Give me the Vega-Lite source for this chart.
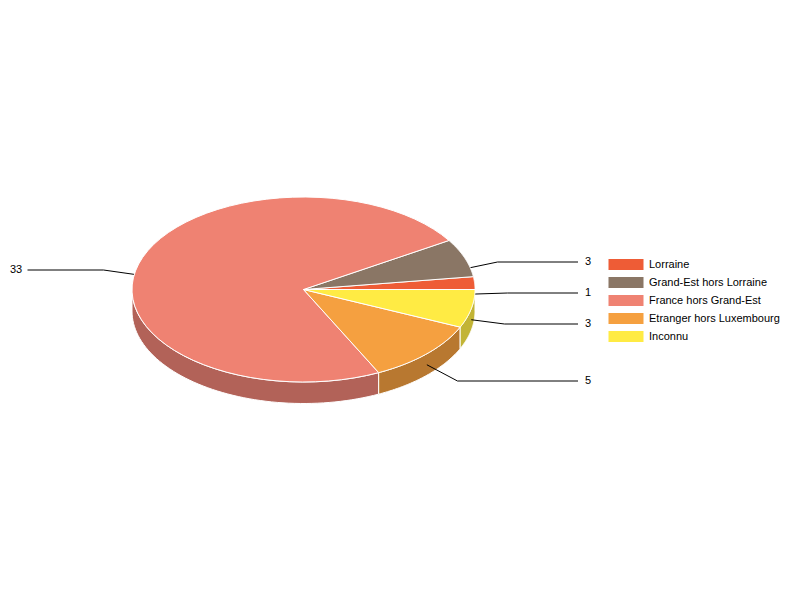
{
  "$schema": "https://vega.github.io/schema/vega-lite/v6.json",
  "width": 800,
  "height": 600,
  "padding": 0,
  "autosize": {"type": "none"},
  "background": "white",
  "data": {
    "values": [
      {"slice": "Lorraine", "rank": 1, "value": 1, "elbowX": 204, "endX": 274.5, "labelX": 284.5, "labelY": -3.5},
      {"slice": "Grand-Est hors Lorraine", "rank": 2, "value": 3, "elbowX": 194, "endX": 274.5, "labelX": 284.5, "labelY": 27.5},
      {"slice": "France hors Grand-Est", "rank": 3, "value": 33, "elbowX": -200, "endX": -276, "labelX": -287.5, "labelY": 19.5},
      {"slice": "Etranger hors Luxembourg", "rank": 4, "value": 5, "elbowX": 154, "endX": 274.5, "labelX": 284.5, "labelY": -91.5},
      {"slice": "Inconnu", "rank": 5, "value": 3, "elbowX": 201, "endX": 274.5, "labelX": 284.5, "labelY": -34.5}
    ]
  },
  "transform": [
    {"joinaggregate": [{"op": "sum", "field": "value", "as": "total"}]},
    {"window": [{"op": "sum", "field": "value", "as": "cum"}], "sort": [{"field": "rank"}]},
    {"calculate": "2 * PI * (datum.cum - datum.value) / datum.total", "as": "a0"},
    {"calculate": "2 * PI * datum.cum / datum.total", "as": "a1"}
  ],
  "encoding": {
    "x": {"field": "px", "type": "quantitative", "axis": null, "scale": {"domain": [-303.5, 496.5], "nice": false, "zero": false}},
    "y": {"field": "py", "type": "quantitative", "axis": null, "scale": {"domain": [-310.5, 289.5], "nice": false, "zero": false}}
  },
  "layer": [
    {
      "transform": [
        {"calculate": "max(datum.a0, PI)", "as": "w0"},
        {"calculate": "max(datum.a1, PI)", "as": "w1"},
        {"filter": "datum.w1 > datum.w0"},
        {"calculate": "sequence(0, 122)", "as": "i"},
        {"flatten": ["i"]},
        {"calculate": "datum.w0 + ((datum.i <= 60 ? datum.i : 121 - datum.i) / 60) * (datum.w1 - datum.w0)", "as": "a"},
        {"calculate": "171.5 * cos(datum.a)", "as": "px"},
        {"calculate": "92.5 * sin(datum.a) - (datum.i <= 60 ? 0 : 21.5)", "as": "py"}
      ],
      "mark": {"type": "line", "filled": true, "interpolate": "linear-closed", "stroke": "white", "strokeWidth": 1},
      "encoding": {
        "order": {"field": "i", "type": "quantitative"},
        "color": {
          "field": "slice",
          "type": "nominal",
          "legend": null,
          "scale": {
            "domain": ["France hors Grand-Est", "Etranger hors Luxembourg", "Inconnu"],
            "range": ["#b26258", "#b87830", "#c2b435"]
          }
        }
      }
    },
    {
      "transform": [
        {"calculate": "sequence(0, 3)", "as": "p"},
        {"flatten": ["p"]},
        {"calculate": "(datum.a0 + datum.a1) / 2", "as": "mid"},
        {"calculate": "datum.p == 0 ? 171.5 * cos(datum.mid) : datum.p == 1 ? datum.elbowX : datum.endX", "as": "px"},
        {"calculate": "datum.p == 0 ? 92.5 * sin(datum.mid) - 11 : datum.labelY", "as": "py"}
      ],
      "mark": {"type": "line", "stroke": "black", "strokeWidth": 1},
      "encoding": {
        "detail": {"field": "slice", "type": "nominal"},
        "order": {"field": "p", "type": "quantitative"}
      }
    },
    {
      "transform": [
        {"calculate": "sequence(-1, 61)", "as": "i"},
        {"flatten": ["i"]},
        {"calculate": "datum.a0 + (datum.i / 60) * (datum.a1 - datum.a0)", "as": "a"},
        {"calculate": "datum.i < 0 ? 0 : 171.5 * cos(datum.a)", "as": "px"},
        {"calculate": "datum.i < 0 ? 0 : 92.5 * sin(datum.a)", "as": "py"}
      ],
      "mark": {"type": "line", "filled": true, "interpolate": "linear-closed", "stroke": "white", "strokeWidth": 1},
      "encoding": {
        "order": {"field": "i", "type": "quantitative"},
        "color": {
          "field": "slice",
          "type": "nominal",
          "scale": {
            "domain": ["Lorraine", "Grand-Est hors Lorraine", "France hors Grand-Est", "Etranger hors Luxembourg", "Inconnu"],
            "range": ["#ee5c36", "#8a7665", "#ef8272", "#f5a040", "#ffeb44"]
          },
          "legend": {
            "title": null,
            "orient": "none",
            "legendX": 620.5,
            "legendY": 259,
            "symbolType": "M-3.5,-1.08H3.5V1.08H-3.5Z",
            "symbolSize": 100,
            "symbolStrokeWidth": 0,
            "symbolOpacity": 1,
            "rowPadding": 6,
            "labelFont": "Liberation Sans",
            "labelFontSize": 11,
            "labelColor": "black",
            "labelOffset": 17.5
          }
        }
      }
    },
    {
      "mark": {"type": "text", "font": "Liberation Sans", "fontSize": 11, "color": "black", "align": "center", "baseline": "middle"},
      "encoding": {
        "x": {"field": "labelX", "type": "quantitative"},
        "y": {"field": "labelY", "type": "quantitative"},
        "text": {"field": "value", "type": "quantitative"}
      }
    }
  ],
  "resolve": {"scale": {"color": "independent"}},
  "config": {"view": {"stroke": null}}
}
